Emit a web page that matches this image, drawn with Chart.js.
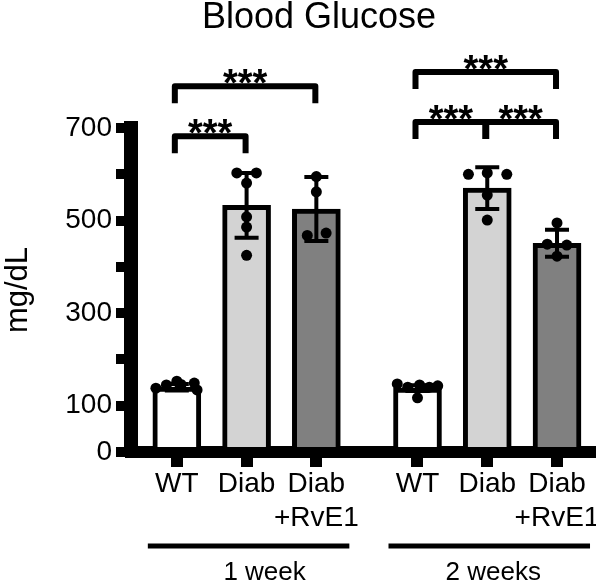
<!DOCTYPE html>
<html><head><meta charset="utf-8">
<script src="https://cdn.jsdelivr.net/npm/chart.js@4"></script>
<style>html,body{margin:0;padding:0;background:#fff}#wrap{width:596px;height:583px;position:relative}</style>
</head><body><div id="wrap"><canvas id="c"></canvas></div>
<script>
const chartTitle = 'Blood Glucose';
const yTitle = 'mg/dL';
const categories = [['WT'], ['Diab'], ['Diab', '+RvE1'], ['WT'], ['Diab'], ['Diab', '+RvE1']];
const groupLabels = ['1 week', '2 weeks'];
const xPositions = [0, 1, 2, 3.45, 4.45, 5.45];
const meanValues = [140, 533, 525, 138, 570, 451];
const sdValues = [7, 70, 69, 6, 45, 29];
const pointValues = [
  [138, 145, 153, 146, 149, 134],
  [603, 603, 581, 508, 486, 425],
  [595, 562, 468, 473],
  [147, 145, 143, 117, 140, 140],
  [600, 603, 600, 555, 501],
  [495, 449, 447, 423]
];
const pointJitter = [
  [-0.3, -0.15, 0, 0.06, 0.25, 0.29],
  [-0.14, 0.14, 0, 0, 0, 0],
  [0, 0, -0.13, 0.14],
  [-0.29, 0.03, 0.29, 0, -0.14, 0.17],
  [-0.27, 0, 0.28, 0, 0],
  [0, -0.14, 0.14, 0]
];
const yTickLabels = [0, 100, 300, 500, 700];
const comparisons = [
  { from: 0, to: 1, level: 682, label: '***' },
  { from: 0, to: 2, level: 790, label: '***' },
  { from: 3, to: 4, level: 713, label: '***' },
  { from: 4, to: 5, level: 713, label: '***' },
  { from: 3, to: 5, level: 821, label: '***' }
];
const barColors = ['#ffffff', '#d3d3d3', '#808080', '#ffffff', '#d3d3d3', '#808080'];

const FONT = '"Liberation Sans", Arial, sans-serif';

const barData = xPositions.map((x, i) => ({ x: x, y: meanValues[i] }));
const dotData = [];
pointValues.forEach((vals, i) => vals.forEach((v, j) => dotData.push({ x: xPositions[i] + pointJitter[i][j], y: v })));

const errorBarPlugin = {
  id: 'errorBars',
  afterDatasetDraw(chart, args) {
    if (args.index !== 0) return;
    const ctx = chart.ctx, xs = chart.scales.x, ys = chart.scales.y;
    ctx.save();
    ctx.strokeStyle = '#000';
    ctx.lineWidth = 4;
    xPositions.forEach((x, i) => {
      const px = xs.getPixelForValue(x);
      const top = ys.getPixelForValue(meanValues[i] + sdValues[i]);
      const bot = ys.getPixelForValue(meanValues[i] - sdValues[i]);
      ctx.beginPath();
      ctx.moveTo(px, top); ctx.lineTo(px, bot);
      ctx.moveTo(px - 12, top); ctx.lineTo(px + 12, top);
      ctx.moveTo(px - 12, bot); ctx.lineTo(px + 12, bot);
      ctx.stroke();
    });
    ctx.restore();
  }
};

const annotPlugin = {
  id: 'annot',
  afterDraw(chart) {
    const ctx = chart.ctx, xs = chart.scales.x, ys = chart.scales.y;
    ctx.save();
    ctx.fillStyle = '#000';
    ctx.strokeStyle = '#000';
    // title
    ctx.font = '36px ' + FONT;
    ctx.textAlign = 'center';
    ctx.textBaseline = 'alphabetic';
    ctx.fillText(chartTitle, 319, 28);
    // brackets
    ctx.lineWidth = 6;
    ctx.lineJoin = 'round';
    comparisons.forEach(c => {
      const x1 = xs.getPixelForValue(xPositions[c.from]) - 2;
      const x2 = xs.getPixelForValue(xPositions[c.to]) - 1;
      const y = ys.getPixelForValue(c.level);
      ctx.beginPath();
      ctx.moveTo(x1, y + 17); ctx.lineTo(x1, y); ctx.lineTo(x2, y); ctx.lineTo(x2, y + 17);
      ctx.stroke();
      ctx.font = 'bold 38px ' + FONT;
      ctx.textAlign = 'center';
      ctx.textBaseline = 'alphabetic';
      ctx.fillText(c.label, (x1 + x2) / 2, y + 10);
    });
    // group lines
    const groups = [[0, 2], [3, 5]];
    ctx.lineWidth = 5;
    ctx.font = '26px ' + FONT;
    groups.forEach((g, i) => {
      const a = xs.getPixelForValue(xPositions[g[0]]) - 29;
      const b = xs.getPixelForValue(xPositions[g[1]]) + 33;
      ctx.beginPath();
      ctx.moveTo(a, 546); ctx.lineTo(b, 546);
      ctx.stroke();
      ctx.textAlign = 'center';
      ctx.fillText(groupLabels[i], (a + b) / 2 + (i === 0 ? 16 : 4), 580);
    });
    ctx.restore();
  }
};

new Chart(document.getElementById('c'), {
  type: 'bar',
  data: {
    datasets: [
      {
        type: 'bar',
        data: barData,
        backgroundColor: barColors,
        borderColor: '#000',
        borderWidth: 5,
        borderSkipped: 'bottom',
        barThickness: 48,
        order: 2
      },
      {
        type: 'scatter',
        data: dotData,
        backgroundColor: '#000',
        borderWidth: 0,
        pointRadius: 5.5,
        order: 1
      }
    ]
  },
  options: {
    responsive: true,
    maintainAspectRatio: false,
    animation: false,
    layout: { padding: { top: 128, right: 4, left: 0, bottom: 0 } },
    plugins: { legend: { display: false }, tooltip: { enabled: false }, title: { display: false } },
    scales: {
      x: {
        type: 'linear',
        min: -0.657,
        max: 5.93,
        offset: false,
        border: { display: true, color: '#000', width: 12 },
        grid: { offset: false, drawOnChartArea: false, drawTicks: true, tickLength: 15, lineWidth: 12, color: '#000' },
        afterBuildTicks(scale) { scale.ticks = xPositions.map(v => ({ value: v })); },
        afterFit(scale) { scale.height = 131; scale.paddingLeft = 0; scale.paddingRight = 0; },
        ticks: {
          autoSkip: false,
          maxRotation: 0,
          minRotation: 0,
          padding: 0,
          color: '#000',
          font: { family: FONT, size: 28, lineHeight: 1.214 },
          callback: (v, i) => categories[i]
        }
      },
      y: {
        min: 0,
        max: 700,
        border: { display: true, color: '#000', width: 14 },
        grid: { drawOnChartArea: false, drawTicks: true, tickLength: 15, lineWidth: 10, color: '#000' },
        afterFit(scale) { scale.width = 131; scale.paddingTop = 0; scale.paddingBottom = 0; },
        ticks: {
          stepSize: 100,
          padding: 4,
          color: '#000',
          font: { family: FONT, size: 28 },
          callback: v => (yTickLabels.includes(v) ? String(v) : '')
        },
        title: {
          display: true,
          text: yTitle,
          color: '#000',
          font: { family: FONT, size: 31 },
          padding: { top: 0, bottom: 0 }
        }
      }
    }
  },
  plugins: [errorBarPlugin, annotPlugin]
});
</script>
</body></html>
